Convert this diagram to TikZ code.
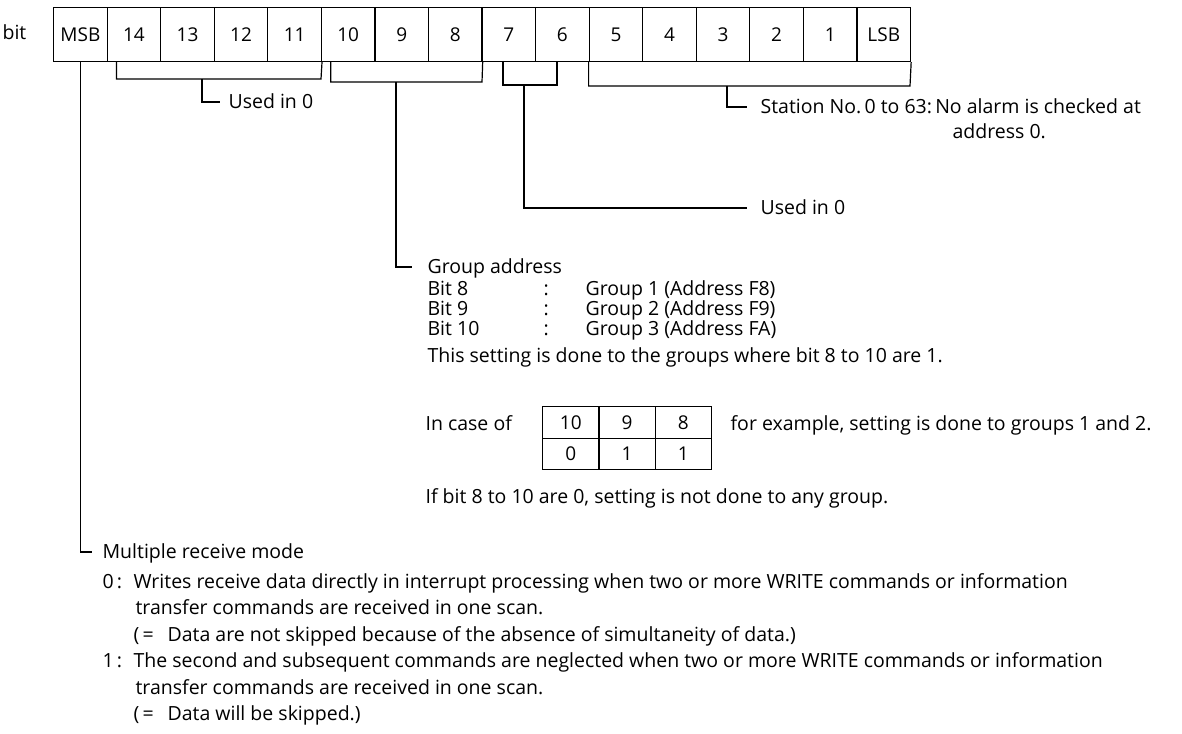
\documentclass[tikz,border=0pt]{standalone}
\usepackage{fontspec}
\setmainfont{Open Sans}
\begin{document}
\begin{tikzpicture}[x=1pt,y=-1pt,line width=1.2pt,
  lbl/.style={anchor=west,inner sep=0pt,text height=13.9pt,text depth=0pt,font=\fontsize{19.5}{22}\selectfont},
  cell/.style={draw,anchor=north west,minimum width=53.56pt,minimum height=54pt,inner sep=0pt,font=\fontsize{19}{22}\selectfont},
  tcell/.style={draw,anchor=north west,minimum width=56.3pt,minimum height=31.5pt,inner sep=0pt,font=\fontsize{19}{22}\selectfont}]
\useasboundingbox (0,0) rectangle (1182,733);

% register
\node[lbl] (bit) at (2,33) {bit};
\foreach \t [count=\i from 0] in {MSB,14,13,12,11,10,9,8,7,6,5,4,3,2,1,LSB}
  \node[cell] (c\i) at ({53+53.56*\i},7) {\t};

% labels
\node[lbl] (usedA) at (228,102) {Used in 0};
\node[lbl] (ga) at (427,267) {Group address};
\node[lbl] (usedC) at (760,208) {Used in 0};
\node[lbl] (sta) at (760,107) {Station No.\,0 to 63:\,No alarm is checked at};
\node[lbl] (sta2) at (952,132) {address 0.};
\node[lbl] (mrm) at (102,552) {Multiple receive mode};

% brackets and stems
\draw ([xshift=10pt]c1.south west) |- (321,79) -- (c4.south east);
\coordinate (sA) at (202,79);
\draw (sA) |- ([xshift=-8pt]usedA.west);

\draw ([xshift=10pt]c5.south west) |- (482,82) -- (c7.south east);
\coordinate (sB) at (396,82);
\draw (sB) |- ([xshift=-15pt]ga.west);

\draw (503,61) |- (557,85) -- (557,61);
\coordinate (sC) at (524,85);
\draw (sC) |- ([xshift=-13pt]usedC.west);

\draw (c10.south west) |- (910,86) -- (c15.south east);
\coordinate (sD) at (727,86);
\draw (sD) |- ([xshift=-13pt]sta.west);

\draw (c0.south) |- ([xshift=-10pt]mrm.west);

% group address block
\node[lbl] (g8) at (427,289) {\makebox[116pt][l]{Bit 8}\makebox[42pt][l]{:}Group 1 (Address F8)};
\node[lbl] (g9) at (427,309) {\makebox[116pt][l]{Bit 9}\makebox[42pt][l]{:}Group 2 (Address F9)};
\node[lbl] (g10) at (427,329) {\makebox[116pt][l]{Bit 10}\makebox[42pt][l]{:}Group 3 (Address FA)};
\node[lbl] (ths) at (427,356) {This setting is done to the groups where bit 8 to 10 are 1.};
\node[lbl] (incase) at (425,424) {In case of};
\foreach \t [count=\i from 0] in {10,9,8}
  \node[tcell] (t1\i) at ({542+56.3*\i},406) {\t};
\foreach \t [count=\i from 0] in {0,1,1}
  \node[tcell] (t2\i) at ({542+56.3*\i},437.5) {\t};
\node[lbl] (forex) at (730,424) {for example, setting is done to groups 1 and 2.};
\node[lbl] (ifbit) at (425,497) {If bit 8 to 10 are 0, setting is not done to any group.};

% multiple receive mode block
\node[lbl] (m0) at (102,582) {\makebox[31pt][l]{0\,:}Writes receive data directly in interrupt processing when two or more WRITE commands or information};
\node[lbl] (m0b) at (135,608) {transfer commands are received in one scan.};
\node[lbl] (m0c) at (133,635) {\makebox[34pt][l]{(\,=}Data are not skipped because of the absence of simultaneity of data.)};
\node[lbl] (m1) at (102,661) {\makebox[31pt][l]{1\,:}The second and subsequent commands are neglected when two or more WRITE commands or information};
\node[lbl] (m1b) at (135,688) {transfer commands are received in one scan.};
\node[lbl] (m1c) at (133,714) {\makebox[34pt][l]{(\,=}Data will be skipped.)};
\end{tikzpicture}
\end{document}
